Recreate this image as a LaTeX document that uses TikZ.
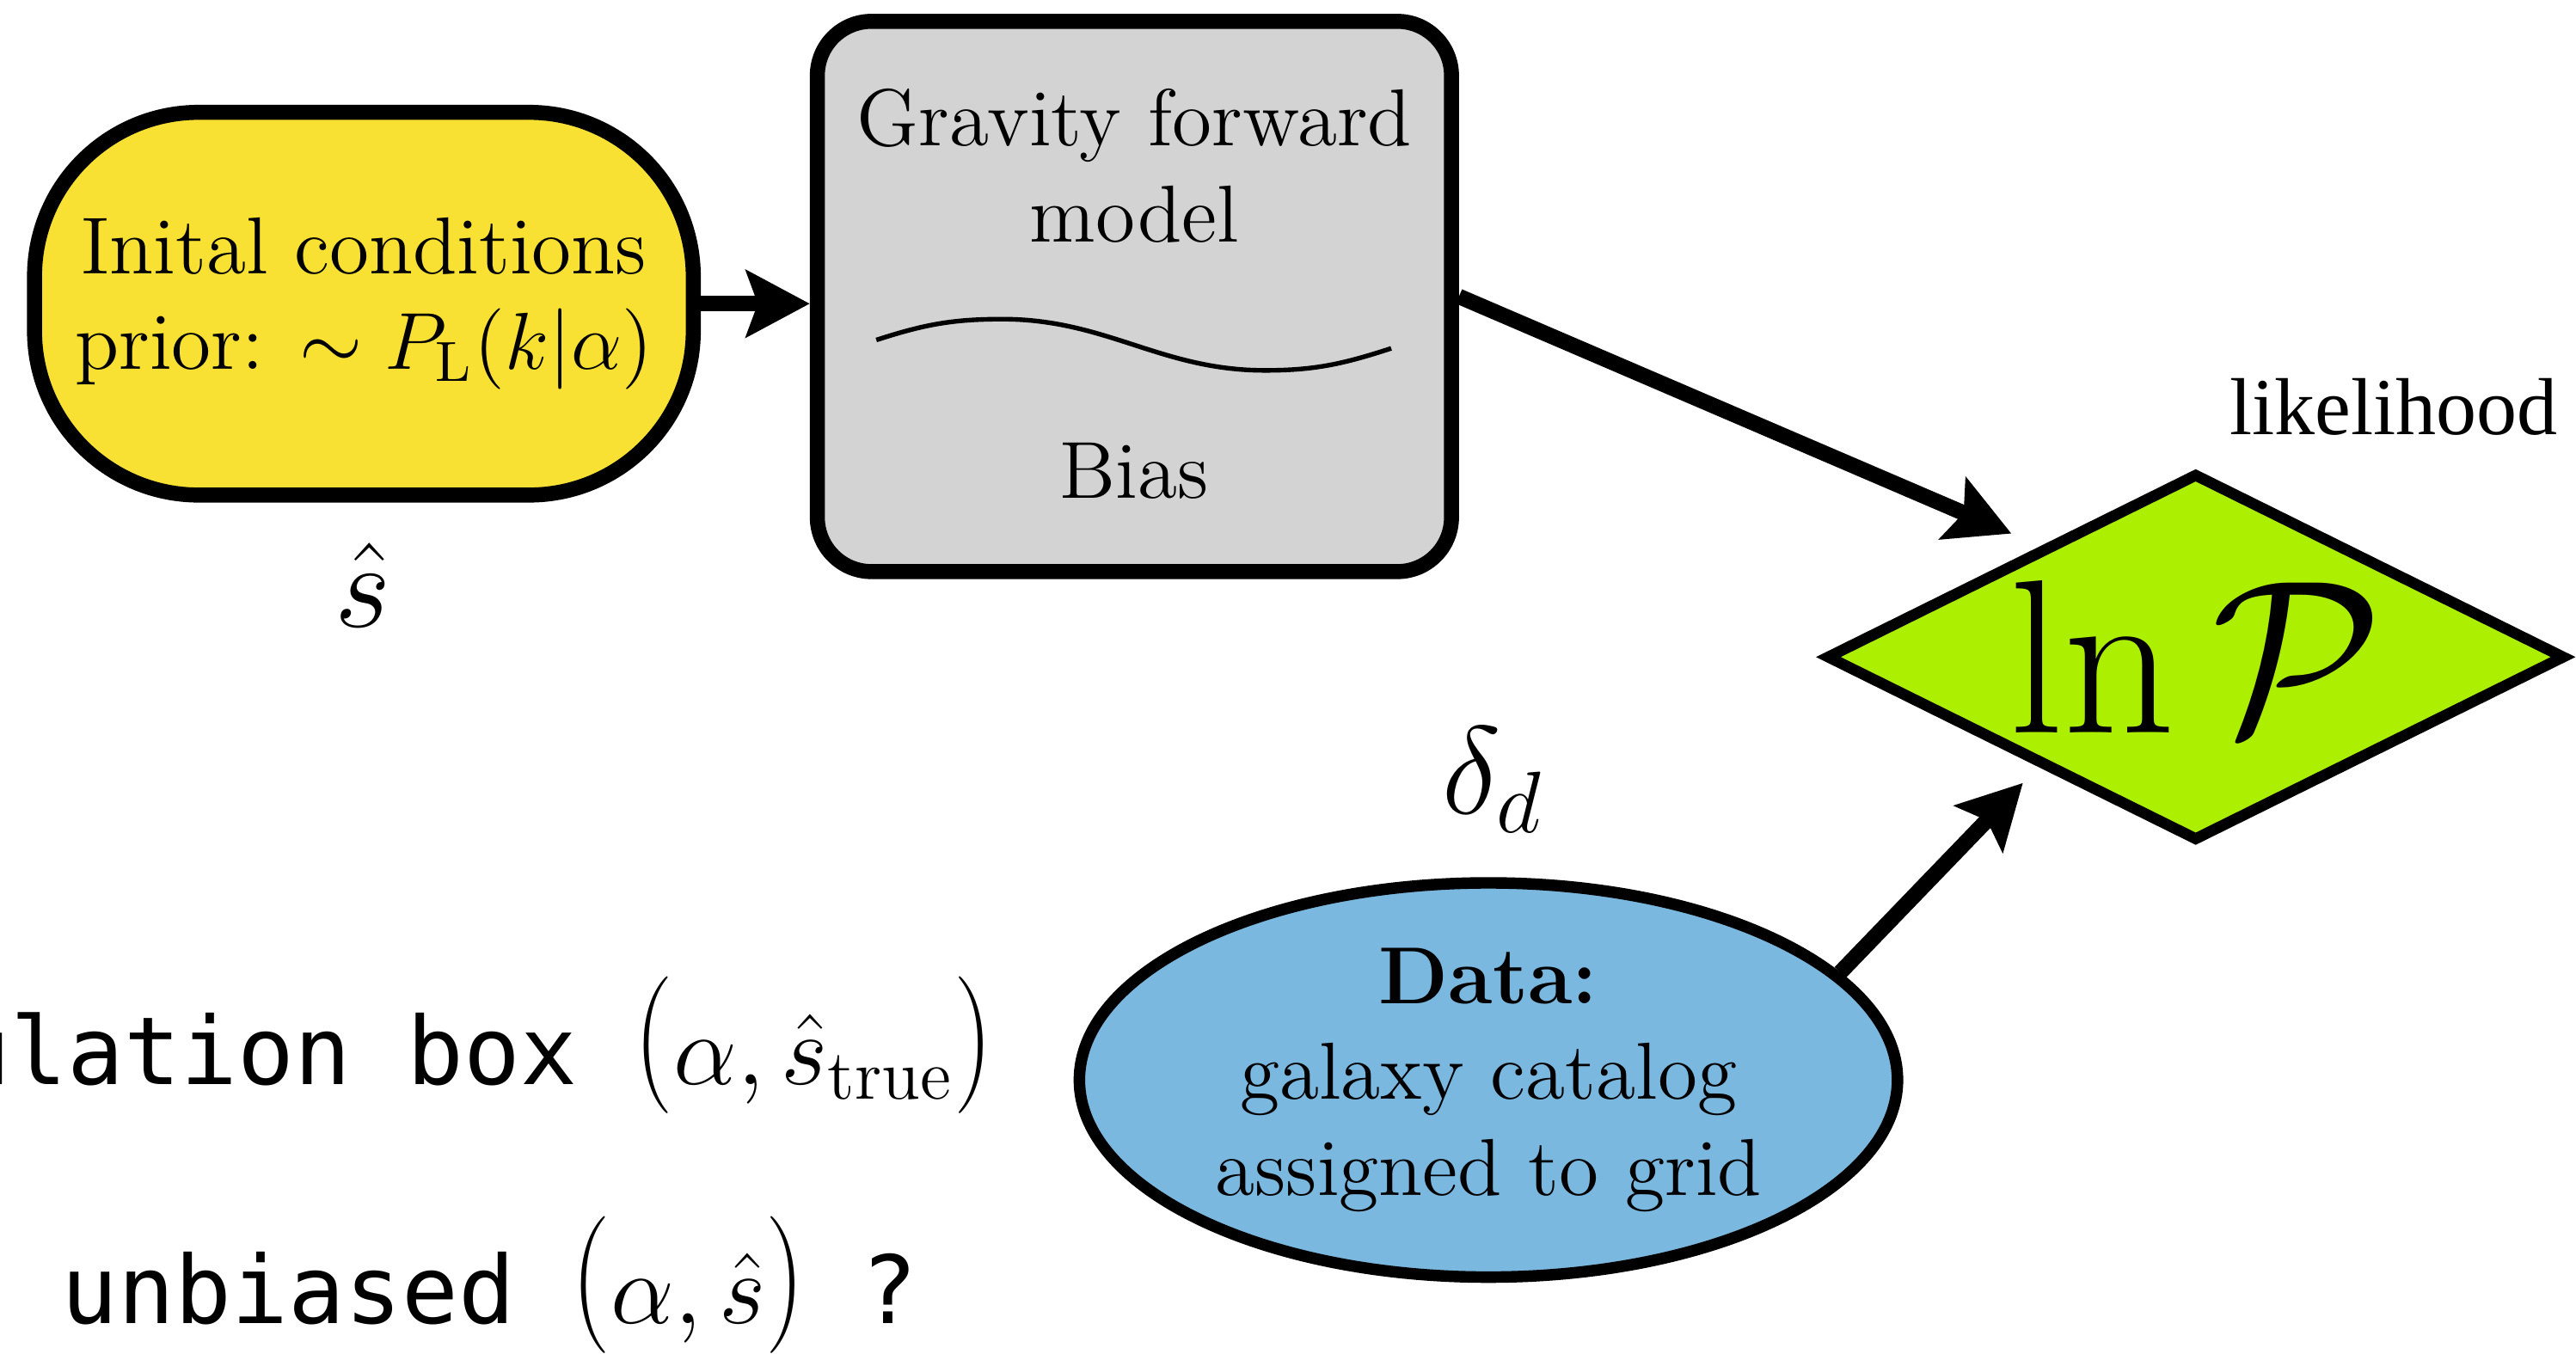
\RequirePackage{fix-cm}
\documentclass[tikz,border=0pt]{standalone}
\usepackage{amsmath}
\usepackage{graphicx}
\usepackage{fontspec}
\setmonofont{DejaVu Sans Mono}
\newfontfamily\timesfont{Liberation Serif}
\usepackage{tikz}
\usetikzlibrary{arrows.meta}
\usetikzlibrary{shapes.geometric}
\usetikzlibrary{calc}
\definecolor{icyellow}{RGB}{248,225,50}
\definecolor{fwdgray}{RGB}{211,211,211}
\definecolor{lnpgreen}{RGB}{173,239,0}
\definecolor{datablue}{RGB}{122,184,223}
\tikzset{>={Stealth[length=11pt,width=11.5pt,inset=2pt]}}
\tikzset{
    boxfont/.style={font=\fontsize{14}{16.6}\selectfont},
    initbox/.style={boxfont, draw, line width=2.6pt, fill=icyellow, rounded corners=1cm,
        minimum width=4.01cm, minimum height=2.33cm, inner sep=0pt, align=center},
    fwdbox/.style={draw, line width=2.6pt, fill=fwdgray, rounded corners=0.33cm,
        minimum width=3.86cm, minimum height=3.35cm},
    likebox/.style={diamond, aspect=2, draw, line width=1.9pt, fill=lnpgreen,
        minimum width=4.50cm, minimum height=2.24cm, inner sep=0pt,
        font=\fontsize{38}{44}\selectfont},
    databox/.style={ellipse, boxfont, draw, line width=2pt, fill=datablue,
        minimum width=4.98cm, minimum height=2.40cm, inner sep=0pt, align=center},
    codeline/.style={font=\fontsize{16.3}{19.5}\selectfont, anchor=base west, inner sep=0pt},
    conn/.style={->, line width=2.7pt},
}
% tall thin parentheses and math for the code lines
\newcommand{\tallopen}{\raisebox{0.8pt}{\resizebox*{6.8pt}{23.7pt}{$($}}}
\newcommand{\tallclose}{\raisebox{0.8pt}{\resizebox*{6.8pt}{23.7pt}{$)$}}}
\newcommand{\codemath}[1]{{\fontsize{17.5}{21}\selectfont\tallopen$#1$\tallclose}}
\begin{document}
\begin{tikzpicture} % forward model -> likelihood
	\useasboundingbox (0,0) rectangle (15.68,-8.24);
	\clip (0,0) rectangle (15.68,-8.24);
	\node[initbox] (init) at (2.215,-1.849) {Inital conditions\\prior: $\sim P_{\mathrm{L}}(k|\alpha)$};
	\node[font=\fontsize{21}{25}\selectfont] (shat) at (2.208,-3.564) {$\hat{s}$};
	\node[fwdbox] (fwd) at (6.905,-1.805) {};
	\node[boxfont, align=center] (fwdtxt) at (6.905,-1.01) {Gravity forward\\model};
	\draw[line width=0.8pt] (5.334,-2.07) to[out=18,in=180] (6.10,-1.943)
		to[out=0,in=180] (7.70,-2.255) to[out=0,in=198] (8.468,-2.121);
	\node[boxfont, anchor=base] (bias) at (6.905,-3.035) {Bias};
	\node[likebox] (lnp) at (13.365,-4.0) {$\ln\mathcal{P}$};
	\node[font=\timesfont\fontsize{14}{16.6}\selectfont, anchor=base] (like) at (14.57,-2.646) {likelihood};
	\node[font=\fontsize{21.6}{26}\selectfont] (deltad) at (9.09,-4.747) {$\delta_d$};
	\node[databox] (data) at (9.06,-6.575) {\textbf{Data:}\\galaxy catalog\\assigned to grid};
	\node[codeline] (simbox) at (-1.32,-6.60) {{\ttfamily Simulation box\ }\codemath{\alpha,\hat{s}_{\mathrm{true}}}};
	\node[codeline] (unbiased) at (0.369,-8.057) {{\ttfamily unbiased\ }\codemath{\alpha,\hat{s}}{\ttfamily\ ?}};
	\draw[conn] (init.east) -- (init.east -| fwd.west);
	\draw[conn] (fwd.east) -- ([shift={(0.02,0.175)}]lnp.north west);
	\draw[conn] (data.17) -- ([shift={(0.09,-0.19)}]lnp.south west);
\end{tikzpicture}
\end{document}
